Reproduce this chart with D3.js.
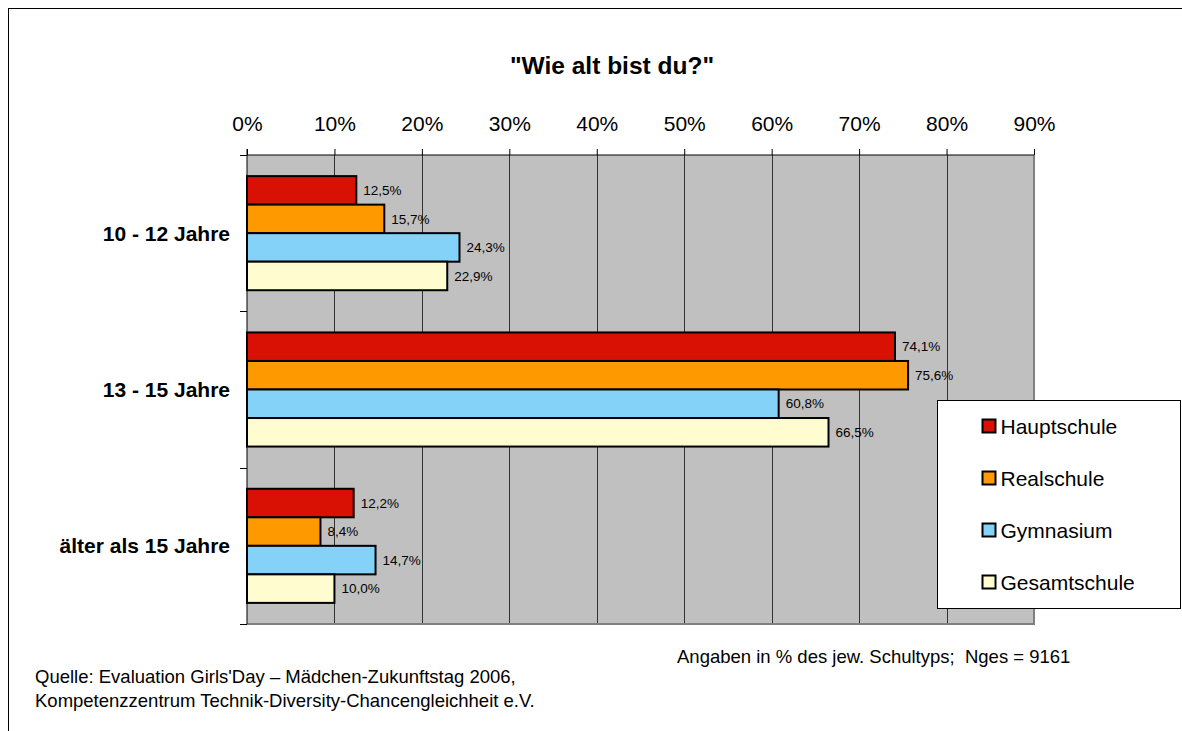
<!DOCTYPE html>
<head>
  <meta charset="utf-8">
  <script src="https://d3js.org/d3.v7.min.js"></script>
  <style>
  body { margin: 0; background: #fff; }
  #chart text { font-family: "Liberation Sans", Arial, sans-serif; fill: #000; }
  </style>
</head>

<body>
  <svg id="chart"></svg>
  <script>

    var categories = ["10 - 12 Jahre", "13 - 15 Jahre", "älter als 15 Jahre"];
    var series = ["Hauptschule", "Realschule", "Gymnasium", "Gesamtschule"];
    var hauptschule = [12.5, 74.1, 12.2];
    var realschule = [15.7, 75.6, 8.4];
    var gymnasium = [24.3, 60.8, 14.7];
    var gesamtschule = [22.9, 66.5, 10.0];
    var tickValues = [0, 10, 20, 30, 40, 50, 60, 70, 80, 90];
    var colors = ["#d81104", "#ff9900", "#85d2f9", "#fffdcf"];

    var values = [hauptschule, realschule, gymnasium, gesamtschule];

    var width = 1182,
        height = 731;

    var svg = d3.select('#chart')
        .attr('width', width)
        .attr('height', height);

    // outer frame (runs off the right and bottom edges)
    svg.append('rect')
        .attr('x', 8.5).attr('y', 8.5)
        .attr('width', 1300).attr('height', 900)
        .attr('fill', 'none').attr('stroke', '#000');

    var x = d3.scaleLinear()
        .domain([0, 90])
        .range([247, 1034]);

    var y0 = d3.scaleBand()
        .domain(categories)
        .range([155, 624]);

    var y1 = d3.scaleBand()
        .domain(series)
        .range([0, y0.bandwidth()])
        .paddingOuter(0.74);

    var de = d3.formatLocale({decimal: ",", thousands: ".", grouping: [3], currency: ["", " €"]});
    var fmt = de.format(".1f");

    // plot background
    svg.append('rect')
        .attr('x', x(0)).attr('y', y0.range()[0])
        .attr('width', x(90) - x(0)).attr('height', y0.range()[1] - y0.range()[0])
        .attr('fill', '#c0c0c0');

    // gridlines
    svg.append('g').selectAll('line')
        .data(tickValues.slice(1, -1))
      .enter().append('line')
        .attr('x1', function(d) { return Math.round(x(d)) + 0.5; })
        .attr('x2', function(d) { return Math.round(x(d)) + 0.5; })
        .attr('y1', y0.range()[0]).attr('y2', y0.range()[1])
        .attr('stroke', '#333');

    // right & bottom edges of plot area
    svg.append('path')
        .attr('d', 'M' + (x(90)) + ',' + y0.range()[0] + 'V' + y0.range()[1] + 'H' + x(0))
        .attr('fill', 'none').attr('stroke', '#808080').attr('stroke-width', 2);

    // bars
    var group = svg.append('g').selectAll('g')
        .data(series)
      .enter().append('g');

    group.selectAll('rect')
        .data(function(s, i) { return values[i].map(function(v, j) { return {s: s, i: i, v: v, c: categories[j]}; }); })
      .enter().append('rect')
        .attr('x', x(0))
        .attr('y', function(d) { return y0(d.c) + y1(d.s); })
        .attr('width', function(d) { return x(d.v) - x(0); })
        .attr('height', y1.bandwidth())
        .attr('fill', function(d) { return colors[d.i]; })
        .attr('stroke', '#000')
        .attr('stroke-width', 2);

    group.selectAll('text')
        .data(function(s, i) { return values[i].map(function(v, j) { return {s: s, i: i, v: v, c: categories[j]}; }); })
      .enter().append('text')
        .attr('x', function(d) { return x(d.v) + 7; })
        .attr('y', function(d) { return y0(d.c) + y1(d.s) + y1.bandwidth() / 2; })
        .attr('dy', '.35em')
        .style('font-size', '13.5px')
        .text(function(d) { return fmt(d.v) + '%'; });

    // top axis
    var xAxis = d3.axisTop(x)
        .tickValues(tickValues)
        .tickSize(6)
        .tickPadding(18)
        .tickFormat(function(d) { return d + '%'; });

    var gx = svg.append('g')
        .attr('transform', 'translate(0,' + y0.range()[0] + ')')
        .call(xAxis);
    gx.select('.domain').attr('stroke', '#000').attr('d', 'M' + x(0) + ',0H' + x(90));
    gx.selectAll('.tick line').attr('stroke', '#000');
    gx.selectAll('.tick text')
        .style('font-size', '21px')
        .attr('font-family', null);

    // left axis
    var bounds = categories.map(function(c) { return y0(c); }).concat([y0.range()[1]]);
    svg.append('line')
        .attr('x1', x(0)).attr('x2', x(0))
        .attr('y1', y0.range()[0] - 6).attr('y2', y0.range()[1])
        .attr('stroke', '#000');
    svg.append('g').selectAll('line')
        .data(bounds)
      .enter().append('line')
        .attr('x1', x(0) - 7).attr('x2', x(0))
        .attr('y1', function(d) { return Math.round(d) + 0.5; })
        .attr('y2', function(d) { return Math.round(d) + 0.5; })
        .attr('stroke', '#000');

    svg.append('g').selectAll('text')
        .data(categories)
      .enter().append('text')
        .attr('x', 230)
        .attr('y', function(d) { return y0(d) + y0.bandwidth() / 2; })
        .attr('dy', '.35em')
        .attr('text-anchor', 'end')
        .style('font-size', '21px')
        .style('font-weight', 'bold')
        .text(function(d) { return d; });

    // title
    svg.append('text')
        .attr('x', 612).attr('y', 74)
        .attr('text-anchor', 'middle')
        .style('font-size', '24.5px')
        .style('font-weight', 'bold')
        .text('"Wie alt bist du?"');

    // legend
    var legend = svg.append('g').attr('transform', 'translate(937.5,400.5)');
    legend.append('rect')
        .attr('width', 243).attr('height', 208)
        .attr('fill', '#fff').attr('stroke', '#000');
    var item = legend.selectAll('g.item')
        .data(series)
      .enter().append('g')
        .attr('class', 'item')
        .attr('transform', function(d, i) { return 'translate(0,' + (26 + i * 52) + ')'; });
    item.append('rect')
        .attr('x', 45).attr('y', -7)
        .attr('width', 13).attr('height', 13)
        .attr('fill', function(d, i) { return colors[i]; })
        .attr('stroke', '#000').attr('stroke-width', 2);
    item.append('text')
        .attr('x', 63).attr('dy', '.35em')
        .style('font-size', '21px')
        .text(function(d) { return d; });

    // notes
    svg.append('text')
        .attr('x', 677).attr('y', 663)
        .style('font-size', '18.5px')
        .attr('xml:space', 'preserve')
        .text('Angaben in % des jew. Schultyps;  Nges = 9161');
    svg.append('text')
        .attr('x', 35).attr('y', 683)
        .style('font-size', '18.5px')
        .text("Quelle: Evaluation Girls'Day – Mädchen-Zukunftstag 2006,");
    svg.append('text')
        .attr('x', 35).attr('y', 707)
        .style('font-size', '18.5px')
        .text('Kompetenzzentrum Technik-Diversity-Chancengleichheit e.V.');

  </script>
</body>
